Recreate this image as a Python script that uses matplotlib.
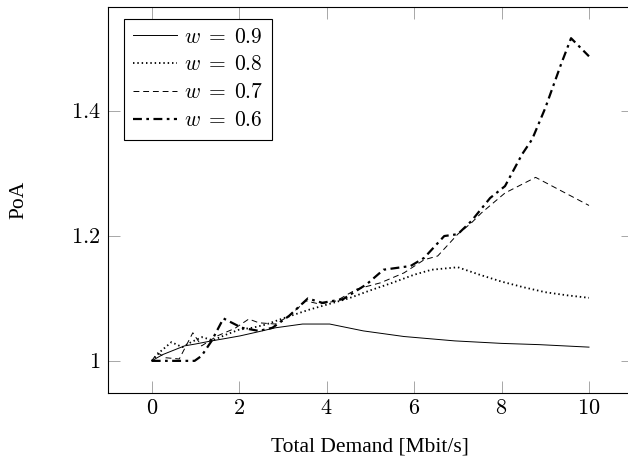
import matplotlib.pyplot as plt

plt.rcParams["font.family"] = ["Liberation Serif", "DejaVu Serif"]
plt.rcParams["mathtext.fontset"] = "cm"

# w = 0.9
x_09 = [0, 0.25, 0.5, 0.75, 1.0, 1.37, 1.7, 2.02, 2.4, 2.83, 3.45, 4.07, 4.84, 5.77, 6.93, 8.0, 8.86, 10]
y_09 = [1.0, 1.01, 1.017, 1.024, 1.027, 1.032, 1.036, 1.04, 1.046, 1.053, 1.059, 1.059, 1.048, 1.039, 1.032, 1.028, 1.026, 1.022]

# w = 0.8
x_08 = [0, 0.2, 0.45, 0.7, 0.9, 1.15, 1.4, 1.7, 2.0, 2.3, 2.6, 3.0, 3.3, 3.6, 4.0, 4.5, 5.0, 5.5, 6.0, 6.4, 7.0, 7.5, 8.0, 8.5, 9.0, 9.5, 10]
y_08 = [1.0, 1.015, 1.03, 1.022, 1.03, 1.038, 1.033, 1.042, 1.05, 1.053, 1.058, 1.068, 1.075, 1.082, 1.09, 1.1, 1.113, 1.125, 1.138, 1.146, 1.15, 1.138, 1.127, 1.118, 1.11, 1.105, 1.101]

# w = 0.7
x_07 = [0, 0.13, 0.32, 0.63, 0.94, 1.14, 1.5, 1.9, 2.22, 2.45, 2.83, 3.14, 3.53, 3.84, 4.22, 4.69, 5.23, 5.77, 6.23, 6.54, 7.0, 7.31, 7.54, 8.08, 8.78, 10]
y_07 = [1.0, 1.013, 1.005, 1.003, 1.045, 1.024, 1.04, 1.052, 1.067, 1.061, 1.059, 1.072, 1.096, 1.091, 1.096, 1.115, 1.125, 1.141, 1.162, 1.168, 1.203, 1.221, 1.237, 1.269, 1.294, 1.249]

# w = 0.6
x_06 = [0, 0.5, 0.98, 1.14, 1.37, 1.64, 2.06, 2.45, 2.76, 3.14, 3.57, 3.9, 4.38, 4.92, 5.3, 5.92, 6.23, 6.69, 7.0, 7.31, 7.74, 8.08, 8.47, 8.7, 9.0, 9.36, 9.59, 10]
y_06 = [1.0, 1.0, 1.0, 1.008, 1.032, 1.068, 1.053, 1.048, 1.053, 1.072, 1.1, 1.093, 1.099, 1.123, 1.146, 1.152, 1.165, 1.2, 1.203, 1.224, 1.261, 1.28, 1.331, 1.355, 1.405, 1.475, 1.517, 1.488]

x_ticks = [0, 2, 4, 6, 8, 10]
y_ticks = [1, 1.2, 1.4]
y_tick_labels = ["1", "1.2", "1.4"]

fig = plt.figure(figsize=(6.28, 4.62), dpi=100)
ax = fig.add_axes([108 / 628, 1 - 393 / 462, (632.7 - 108) / 628, (393 - 7) / 462])

ax.plot(x_09, y_09, color="black", lw=0.7, label=r"$w\;=\;0.9$")
ax.plot(x_08, y_08, color="black", lw=1.3, linestyle=(0, (0.8, 1.6)), label=r"$w\;=\;0.8$")
ax.plot(x_07, y_07, color="black", lw=0.7, linestyle=(0, (6, 4)), label=r"$w\;=\;0.7$")
ax.plot(x_06, y_06, color="black", lw=1.6, linestyle=(0, (4, 2, 1.2, 2)), label=r"$w\;=\;0.6$")

ax.set_xlim(-1, 11)
ax.set_ylim(0.9485, 1.567)
ax.set_xticks(x_ticks)
ax.set_xticklabels([f"${t}$" for t in x_ticks])
ax.set_yticks(y_ticks)
ax.set_yticklabels([f"${t}$" for t in y_tick_labels])
ax.tick_params(direction="in", length=8.5, width=0.6, color="#999999",
               top=True, right=True, labelsize=16, pad=5.5)
ax.tick_params(axis="x", pad=5)
for s in ax.spines.values():
    s.set_linewidth(0.8)

ax.set_xlabel("Total Demand [Mbit/s]", fontsize=15.5)
ax.xaxis.set_label_coords(0.5, -0.114)
ax.set_ylabel("PoA", fontsize=15.5)
ax.yaxis.set_label_coords(-0.151, 0.5)

leg = ax.legend(loc="upper left", bbox_to_anchor=(16 / 524.7, 1 - 12 / 386), fontsize=15.5,
                frameon=True, fancybox=False, edgecolor="black", framealpha=1,
                handlelength=2.05, handletextpad=0.33, labelspacing=0.36,
                borderpad=0.4, borderaxespad=0)
leg.get_frame().set_linewidth(0.8)

fig.savefig("out.png", dpi=100)
